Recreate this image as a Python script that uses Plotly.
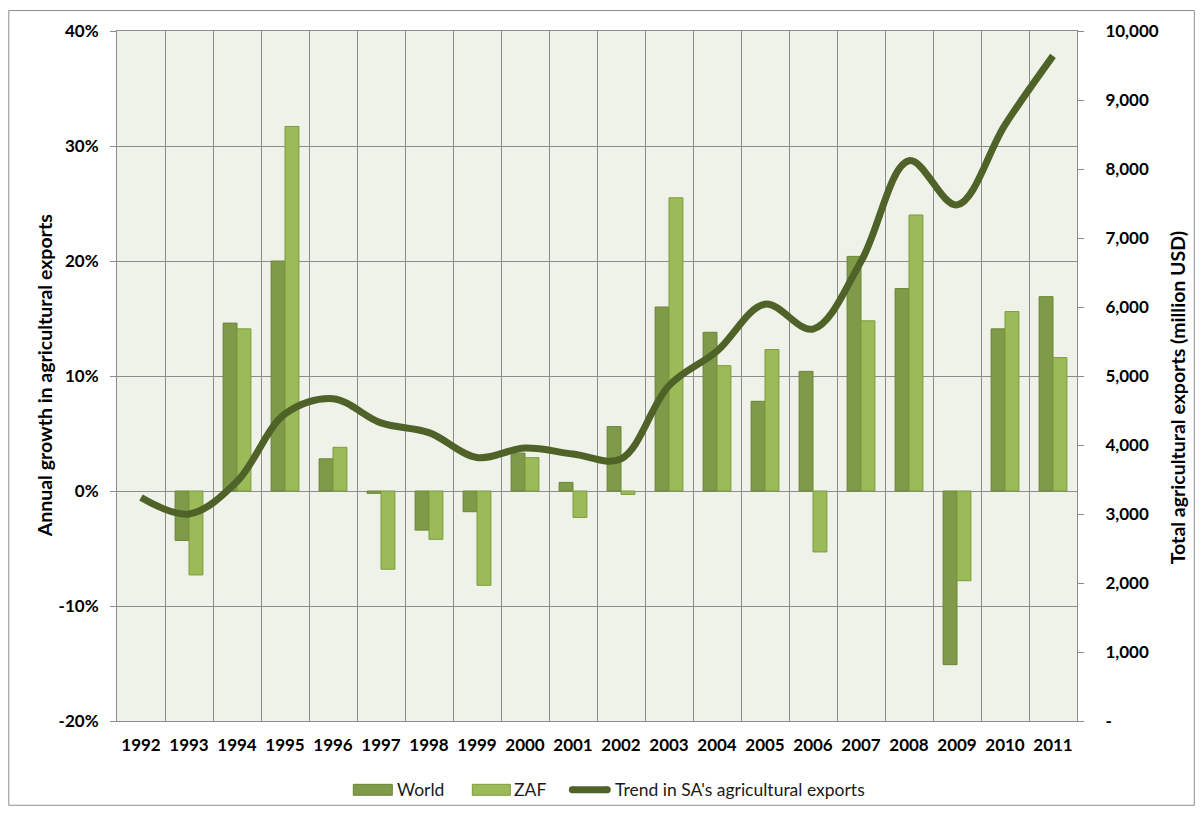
import plotly.graph_objects as go

years = [str(y) for y in range(1992, 2012)]
world_growth = [None, -4.3, 14.6, 20.0, 2.8, -0.2, -3.4, -1.8, 3.3, 0.75,
                5.6, 16.0, 13.8, 7.8, 10.4, 20.4, 17.6, -15.1, 14.1, 16.9]
zaf_growth = [None, -7.3, 14.1, 31.7, 3.8, -6.8, -4.2, -8.2, 2.9, -2.3,
              -0.3, 25.5, 10.9, 12.3, -5.3, 14.8, 24.0, -7.8, 15.6, 11.6]
trend_exports = [3240, 3000, 3470, 4450, 4670, 4320, 4180, 3820, 3955, 3870,
                 3800, 4860, 5360, 6040, 5680, 6660, 8120, 7480, 8640, 9640]

left_ticks = [-20, -10, 0, 10, 20, 30, 40]
left_ticktext = ["-20%", "-10%", "0%", "10%", "20%", "30%", "40%"]
right_ticks = [0, 1000, 2000, 3000, 4000, 5000, 6000, 7000, 8000, 9000, 10000]
right_ticktext = ["-", "1,000", "2,000", "3,000", "4,000", "5,000", "6,000",
                  "7,000", "8,000", "9,000", "10,000"]

FONT = "Lato"
OFF = 8  # page body margin
W, H = 1203 - 2 * OFF, 814 - 2 * OFF
# plot area in page coordinates
L, R, T, B = 116.7, 1076.7, 29, 721
pw, ph = R - L, B - T

def px(x):
    return (x - L) / pw

def py(y):
    return (B - y) / ph

WORLD_C = "#7F9A48"
ZAF_C = "#9BBB59"
LINE_C = "#4F6228"

fig = go.Figure()
fig.add_trace(go.Bar(x=years, y=world_growth, name="World",
                     marker=dict(color=WORLD_C, line=dict(color="#6B8539", width=1))))
fig.add_trace(go.Bar(x=years, y=zaf_growth, name="ZAF",
                     marker=dict(color=ZAF_C, line=dict(color="#7D9C3F", width=1))))
fig.add_trace(go.Scatter(x=years, y=trend_exports, name="Trend in SA's agricultural exports",
                         yaxis="y2", mode="lines",
                         line=dict(color=LINE_C, width=7, shape="spline", smoothing=1.0)))

legend_y = 790
ann_font = dict(family=FONT, size=17.5, color="#1a1a1a")
tick_font = dict(family=FONT, size=17, weight="bold", color="#000000")

fig.update_layout(
    width=W, height=H,
    margin=dict(l=L - OFF, r=W - (R - OFF), t=T - OFF, b=H - (B - OFF), pad=0),
    paper_bgcolor="white",
    plot_bgcolor="#EEF2E8",
    barmode="group", bargap=0.42, bargroupgap=0,
    font=dict(family=FONT, color="#000000"),
    showlegend=False,
    xaxis=dict(type="category", tickson="boundaries", showgrid=True,
               gridcolor="#8C8C8C", gridwidth=1, ticks="", ticklen=0,
               showline=True, linecolor="#8C8C8C", linewidth=1, mirror=True,
               tickfont=tick_font, ticklabelstandoff=9,
               range=[-0.5, 19.5], fixedrange=True),
    yaxis=dict(range=[-20, 40], tickvals=left_ticks, ticktext=left_ticktext,
               showgrid=True, gridcolor="#8C8C8C", gridwidth=1, zeroline=False,
               showline=True, linecolor="#8C8C8C", linewidth=1,
               ticks="outside", ticklen=6, tickcolor="#8C8C8C",
               tickfont=tick_font, ticklabelstandoff=8),
    yaxis2=dict(range=[0, 10000], overlaying="y", side="right",
                tickvals=right_ticks, ticktext=right_ticktext,
                showgrid=False, zeroline=False,
                showline=True, linecolor="#8C8C8C", linewidth=1,
                ticks="outside", ticklen=6, tickcolor="#8C8C8C",
                tickfont=tick_font, ticklabelstandoff=18),
    annotations=[
        dict(text="<b>Annual growth in agricultural exports</b>", xref="paper", yref="paper",
             x=px(44), y=py(375), xanchor="center", yanchor="middle", textangle=-90,
             showarrow=False, font=dict(family=FONT, size=19.5, color="#000000")),
        dict(text="<b>Total agricultural exports (million USD)</b>", xref="paper", yref="paper",
             x=px(1178), y=py(397), xanchor="center", yanchor="middle", textangle=-90,
             showarrow=False, font=dict(family=FONT, size=19.5, color="#000000")),
        dict(text="World", xref="paper", yref="paper", x=px(395), y=py(legend_y),
             xanchor="left", yanchor="middle", showarrow=False, font=ann_font),
        dict(text="ZAF", xref="paper", yref="paper", x=px(512), y=py(legend_y),
             xanchor="left", yanchor="middle", showarrow=False, font=ann_font),
        dict(text="Trend in SA's agricultural exports", xref="paper", yref="paper",
             x=px(613), y=py(legend_y), xanchor="left", yanchor="middle",
             showarrow=False, font=ann_font),
    ],
    shapes=[
        dict(type="rect", xref="paper", yref="paper",
             x0=px(8.5), x1=px(1194), y0=py(805.5), y1=py(8.5),
             line=dict(color="#8C8C8C", width=1), fillcolor="rgba(0,0,0,0)", layer="below"),
        dict(type="rect", xref="paper", yref="paper",
             x0=px(353), x1=px(392), y0=py(legend_y + 5.5), y1=py(legend_y - 5.5),
             line=dict(color="#6B8539", width=1), fillcolor=WORLD_C),
        dict(type="rect", xref="paper", yref="paper",
             x0=px(472), x1=px(510), y0=py(legend_y + 5.5), y1=py(legend_y - 5.5),
             line=dict(color="#7D9C3F", width=1), fillcolor=ZAF_C),
        dict(type="line", xref="paper", yref="paper",
             x0=px(572), x1=px(607), y0=py(legend_y), y1=py(legend_y),
             line=dict(color=LINE_C, width=7)),
        dict(type="circle", xref="paper", yref="paper",
             x0=px(568.5), x1=px(575.5), y0=py(legend_y + 3.5), y1=py(legend_y - 3.5),
             line=dict(width=0), fillcolor=LINE_C),
        dict(type="circle", xref="paper", yref="paper",
             x0=px(603.5), x1=px(610.5), y0=py(legend_y + 3.5), y1=py(legend_y - 3.5),
             line=dict(width=0), fillcolor=LINE_C),
    ],
)

fig.write_html("out.html")
